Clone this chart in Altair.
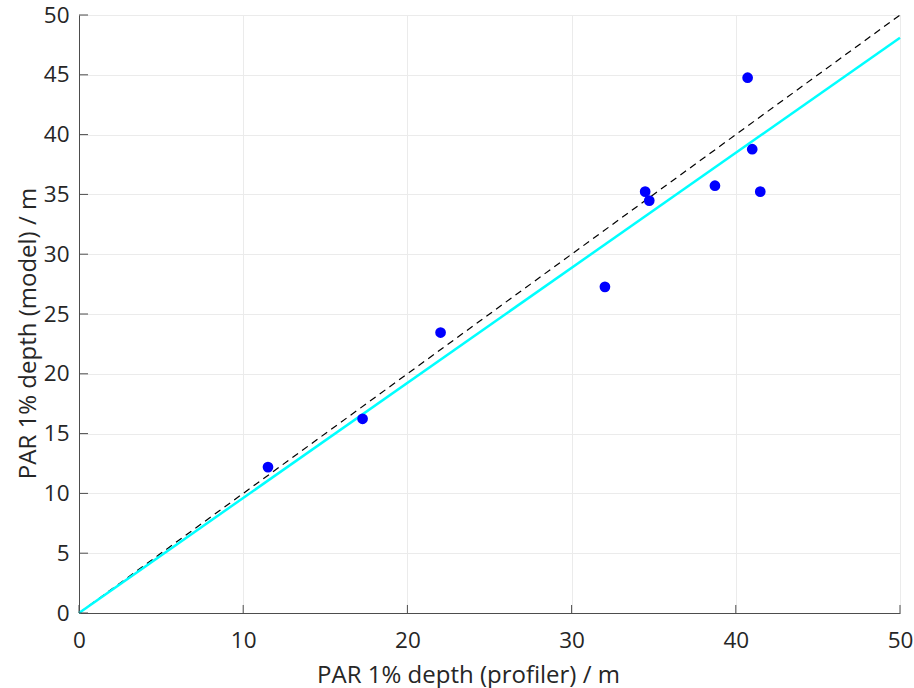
import altair as alt
import pandas as pd

# Euphotic (1% PAR) depth: profiler measurements vs. model estimates
profiler_depth = [11.51, 17.27, 22.02, 32.03, 34.48, 34.73, 38.73, 40.72, 41.00, 41.49]
model_depth = [12.20, 16.24, 23.45, 27.27, 35.23, 34.48, 35.73, 44.76, 38.78, 35.23]

fit_slope = 0.962
axis_max = 50
x_ticks = [0, 10, 20, 30, 40, 50]
y_ticks = [0, 5, 10, 15, 20, 25, 30, 35, 40, 45, 50]

FONT = "Open Sans"
TEXT = "#262626"
AX = "#4d4d4d"
LABEL_SIZE = 22.5
TITLE_SIZE = 24

pts = pd.DataFrame({"x": profiler_depth, "y": model_depth})
one_to_one = pd.DataFrame({"x": [0, axis_max], "y": [0, axis_max]})
fit = pd.DataFrame({"x": [0, axis_max], "y": [0, fit_slope * axis_max]})

xs = alt.Scale(domain=[0, axis_max], nice=False, zero=True)
ys = alt.Scale(domain=[0, axis_max], nice=False, zero=True)

x_axis = alt.Axis(
    values=x_ticks, title="PAR 1% depth (profiler) / m", grid=True,
    gridColor="#ebebeb", gridWidth=1, tickSize=0, domainColor=AX, domainWidth=1,
    labelFont=FONT, labelFontSize=LABEL_SIZE, labelColor=TEXT, labelPadding=16,
    labelFlush=False,
    titleFont=FONT, titleFontSize=TITLE_SIZE, titleColor=TEXT, titleFontWeight="normal",
    titleX=389, titleY=69, titleBaseline="alphabetic",
)
y_axis = alt.Axis(
    values=y_ticks, title="PAR 1% depth (model) / m", grid=True,
    gridColor="#ebebeb", gridWidth=1, tickSize=0, domainColor=AX, domainWidth=1,
    labelFont=FONT, labelFontSize=LABEL_SIZE, labelColor=TEXT, labelPadding=10,
    labelFlush=False,
    titleFont=FONT, titleFontSize=TITLE_SIZE, titleColor=TEXT, titleFontWeight="normal",
    titleX=-44, titleY=318, titleBaseline="alphabetic",
)

base_x = alt.X("x:Q", scale=xs, axis=x_axis)
base_y = alt.Y("y:Q", scale=ys, axis=y_axis)

# inward tick marks along the left and bottom axes
xt = pd.DataFrame({"x": x_ticks, "y0": [0] * len(x_ticks), "y1": [0.67] * len(x_ticks)})
yt = pd.DataFrame({"y": y_ticks, "x0": [0] * len(y_ticks), "x1": [0.55] * len(y_ticks)})

x_tick_marks = alt.Chart(xt).mark_rule(color=AX, strokeWidth=1).encode(
    x=alt.X("x:Q", scale=xs), y=alt.Y("y0:Q", scale=ys), y2="y1:Q"
)
y_tick_marks = alt.Chart(yt).mark_rule(color=AX, strokeWidth=1).encode(
    y=alt.Y("y:Q", scale=ys), x=alt.X("x0:Q", scale=xs), x2="x1:Q"
)

ref_line = alt.Chart(one_to_one).mark_line(
    color="black", strokeWidth=1.2, strokeDash=[7, 5]
).encode(x=base_x, y=base_y)

fit_line = alt.Chart(fit).mark_line(color="#00ffff", strokeWidth=2.5).encode(
    x=alt.X("x:Q", scale=xs), y=alt.Y("y:Q", scale=ys)
)

points = alt.Chart(pts).mark_circle(color="#0000ff", opacity=1, size=115).encode(
    x=alt.X("x:Q", scale=xs), y=alt.Y("y:Q", scale=ys)
)

chart = alt.layer(ref_line, fit_line, points, x_tick_marks, y_tick_marks).properties(
    width=821, height=598,
    autosize=alt.AutoSizeParams(type="none"),
    padding={"left": 79, "top": 15, "right": 14, "bottom": 75},
).configure_view(stroke=None).configure(background="white")

chart.save("out.html", embed_options={"renderer": "svg", "actions": False})
